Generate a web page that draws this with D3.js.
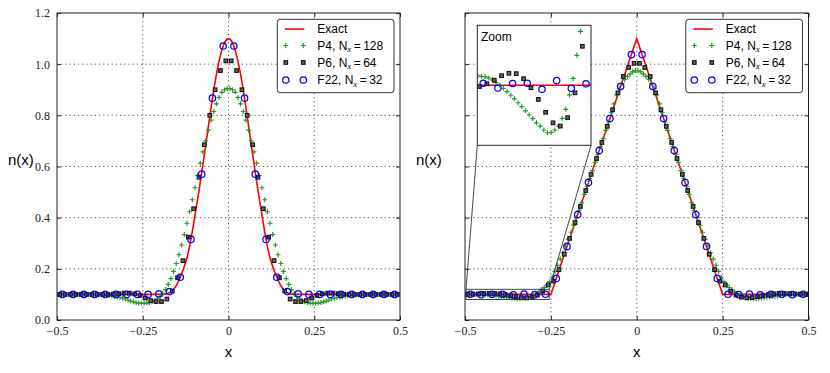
<!DOCTYPE html>
<html><head><meta charset="utf-8">
<script src="https://cdn.jsdelivr.net/npm/d3@7"></script>
<style>body{margin:0;background:#fff}svg{display:block}</style>
</head><body>
<script>
// ---------- data ----------
const xTicks = [-0.5, -0.25, 0, 0.25, 0.5];
const xTickLabels = ["\u22120.5", "\u22120.25", "0", "0.25", "0.5"];
const yTicks = [0, 0.2, 0.4, 0.6, 0.8, 1.0, 1.2];
const yTickLabels = ["0.0", "0.2", "0.4", "0.6", "0.8", "1.0", "1.2"];
const gridX = [-0.25, 0, 0.25];
const gridY = [0.2, 0.4, 0.6, 0.8, 1.0];
const seriesNames = ["Exact", "P4", "P6", "F22"];
const seriesN = [null, 128, 64, 32];

// left panel: smooth bump
const leftExactX = [-0.5,-0.2,-0.19,-0.18,-0.17,-0.16,-0.15,-0.14,-0.13,-0.12,-0.11,-0.1,-0.09,-0.08,-0.07,-0.06,-0.05,-0.04,-0.03,-0.02,-0.01,0,
  0.01,0.02,0.03,0.04,0.05,0.06,0.07,0.08,0.09,0.1,0.11,0.12,0.13,0.14,0.15,0.16,0.17,0.18,0.19,0.2,0.5];
const leftExactY = [0.1,0.1,0.1005,0.103,0.108,0.12,0.14,0.169,0.205,0.248,0.312,0.39,0.472,0.558,0.65,0.745,0.837,0.923,0.996,1.052,1.088,1.1,
  1.088,1.052,0.996,0.923,0.837,0.745,0.65,0.558,0.472,0.39,0.312,0.248,0.205,0.169,0.14,0.12,0.108,0.103,0.1005,0.1,0.1];
const leftP4 = [0.1,0.1,0.1,0.1,0.1,0.1,0.1,0.1,0.1,0.1,0.1,0.1,0.1,0.099,0.099,0.098,0.098,0.097,0.096,0.095,0.094,0.092,0.09,0.088,0.085,0.082,0.078,0.074,0.071,0.068,0.066,0.065,0.065,0.066,0.068,0.071,0.076,0.083,0.092,0.104,0.119,0.139,0.162,0.19,0.221,0.255,0.293,0.334,0.378,0.423,0.47,0.517,0.565,0.613,0.657,0.70,0.742,0.781,0.815,0.845,0.87,0.89,0.90,0.905,
  0.905,0.90,0.89,0.87,0.845,0.815,0.781,0.742,0.70,0.657,0.613,0.565,0.517,0.47,0.423,0.378,0.334,0.293,0.255,0.221,0.19,0.162,0.139,0.119,0.104,0.092,0.083,0.076,0.071,0.068,0.066,0.065,0.065,0.066,0.068,0.071,0.074,0.078,0.082,0.085,0.088,0.09,0.092,0.094,0.095,0.096,0.097,0.098,0.098,0.099,0.099,0.1,0.1,0.1,0.1,0.1,0.1,0.1,0.1,0.1,0.1,0.1,0.1,0.1];
const leftP6 = [0.1,0.1,0.1,0.1,0.1,0.1,0.1,0.1,0.1,0.1,0.101,0.103,0.105,0.105,0.102,0.096,0.086,0.076,0.072,0.072,0.082,0.113,0.165,0.232,0.324,0.435,0.558,0.685,0.80,0.90,0.975,1.013,
  1.013,0.975,0.90,0.80,0.685,0.558,0.435,0.324,0.232,0.165,0.113,0.082,0.072,0.072,0.076,0.086,0.096,0.102,0.105,0.105,0.103,0.101,0.1,0.1,0.1,0.1,0.1,0.1,0.1,0.1,0.1,0.1];
const leftF22 = [0.1,0.1,0.1,0.1,0.1,0.1,0.1,0.1,0.1,0.102,0.111,0.167,0.315,0.57,0.867,1.071,
  1.071,0.867,0.57,0.315,0.167,0.111,0.102,0.1,0.1,0.1,0.1,0.1,0.1,0.1,0.1,0.1];

// right panel: triangle
const rightExactX = [-0.5, -0.25, 0, 0.25, 0.5];
const rightExactY = [0.1, 0.1, 1.1, 0.1, 0.1];
const rightP4 = [0.1031,0.103,0.1029,0.1024,0.1018,0.1009,0.1,0.099,0.0979,0.0967,0.0955,0.0942,0.0929,0.0915,0.0902,0.0889,0.0875,0.0864,0.0851,0.0842,0.0843,0.0851,0.0864,0.089,0.092,0.0968,0.1023,0.11,0.118,0.127,0.137,0.15,0.167,0.19,0.214,0.238,0.263,0.29,0.316,0.343,0.37,0.399,0.428,0.459,0.491,0.522,0.553,0.584,0.616,0.647,0.678,0.709,0.741,0.774,0.81,0.845,0.88,0.905,0.925,0.94,0.952,0.962,0.970,0.975,
  0.975,0.970,0.962,0.952,0.94,0.925,0.905,0.88,0.845,0.81,0.774,0.741,0.709,0.678,0.647,0.616,0.584,0.553,0.522,0.491,0.459,0.428,0.399,0.37,0.343,0.316,0.29,0.263,0.238,0.214,0.19,0.167,0.15,0.137,0.127,0.118,0.11,0.1023,0.0968,0.092,0.089,0.0864,0.0851,0.0843,0.0842,0.0851,0.0864,0.0875,0.0889,0.0902,0.0915,0.0929,0.0942,0.0955,0.0967,0.0979,0.099,0.1,0.1009,0.1018,0.1024,0.1029,0.103,0.1031];
const rightP6 = [0.0996,0.1005,0.1017,0.1032,0.104,0.1039,0.1022,0.0992,0.0953,0.091,0.0875,0.0864,0.0892,0.0975,0.113,0.137,0.152,0.197,0.257,0.319,0.381,0.444,0.506,0.569,0.631,0.694,0.757,0.822,0.888,0.952,0.987,1.003,
  1.003,0.987,0.952,0.888,0.822,0.757,0.694,0.631,0.569,0.506,0.444,0.381,0.319,0.257,0.197,0.152,0.137,0.113,0.0975,0.0892,0.0864,0.0875,0.091,0.0953,0.0992,0.1022,0.1039,0.104,0.1032,0.1017,0.1005,0.0996];
const rightF22 = [0.1007,0.0991,0.1006,0.1007,0.0987,0.1016,0.099,0.1005,0.1625,0.2875,0.4125,0.5375,0.6625,0.7875,0.9125,1.0375,
  1.0375,0.9125,0.7875,0.6625,0.5375,0.4125,0.2875,0.1625,0.1005,0.099,0.1016,0.0987,0.1007,0.1006,0.0991,0.1007];

// inset window (data coords)
const insetX = [-0.497, -0.255];
const insetY = [0.08, 0.12];

// ---------- drawing ----------
const COL = {exact: "#ff0000", p4: "#229922", p6: "#111", f22: "#0000ff"};
const svg = d3.select("body").append("svg").attr("width", 830).attr("height", 373)
  .style("font-family", "'Liberation Sans', Arial, sans-serif");

const cells = arr => arr.map((v, i) => [-0.5 + (i + 0.5) / arr.length, v]);

function plusPath(cx, cy) { return `M${cx - 2.5},${cy}h5M${cx},${cy - 2.5}v5`; }

function drawMarkers(g, x, y, p4, p6, f22) {
  g.selectAll(null).data(cells(p4)).join("path")
    .attr("d", d => plusPath(x(d[0]), y(d[1])))
    .attr("stroke", COL.p4).attr("stroke-width", 1.15).attr("fill", "none");
  g.selectAll(null).data(cells(p6)).join("rect")
    .attr("x", d => x(d[0]) - 1.8).attr("y", d => y(d[1]) - 1.8)
    .attr("width", 3.6).attr("height", 3.6)
    .attr("stroke", COL.p6).attr("stroke-width", 1.1).attr("fill", "#666");
  g.selectAll(null).data(cells(f22)).join("circle")
    .attr("cx", d => x(d[0])).attr("cy", d => y(d[1])).attr("r", 3.2)
    .attr("stroke", COL.f22).attr("stroke-width", 1.25).attr("fill", "none");
}

function panel(cfg) {
  const x = d3.scaleLinear().domain([-0.5, 0.5]).range([cfg.x0, cfg.x1]);
  const y = d3.scaleLinear().domain([0, 1.2]).range([320, 13]);
  const g = svg.append("g");
  const cid = "clip" + cfg.id;
  svg.append("clipPath").attr("id", cid).append("rect")
    .attr("x", cfg.x0).attr("y", 13).attr("width", cfg.x1 - cfg.x0).attr("height", 307);

  // grid
  g.selectAll(null).data(gridX).join("line")
    .attr("x1", d => x(d)).attr("x2", d => x(d)).attr("y1", 13).attr("y2", 320)
    .attr("stroke", "#444").attr("stroke-width", 0.9).attr("stroke-dasharray", "1.2,3");
  g.selectAll(null).data(gridY).join("line")
    .attr("y1", d => y(d)).attr("y2", d => y(d)).attr("x1", cfg.x0).attr("x2", cfg.x1)
    .attr("stroke", "#444").attr("stroke-width", 0.9).attr("stroke-dasharray", "1.2,3");

  const plot = g.append("g").attr("clip-path", `url(#${cid})`);
  const line = d3.line().x(d => x(d[0])).y(d => y(d[1])).curve(cfg.curve);
  plot.append("path").datum(d3.zip(cfg.exactX, cfg.exactY)).attr("d", line)
    .attr("fill", "none").attr("stroke", COL.exact).attr("stroke-width", 1.6);
  drawMarkers(plot, x, y, cfg.p4, cfg.p6, cfg.f22);

  if (cfg.inset) {
    const ix = d3.scaleLinear().domain(insetX).range([477.3, 591]);
    const iy = d3.scaleLinear().domain(insetY).range([145.3, 25.3]);
    g.append("rect").attr("x", x(insetX[0])).attr("y", y(insetY[1]))
      .attr("width", x(insetX[1]) - x(insetX[0])).attr("height", y(insetY[0]) - y(insetY[1]))
      .attr("fill", "none").attr("stroke", "#333").attr("stroke-width", 0.9);
    g.append("line").attr("x1", 477.3).attr("y1", 145.3).attr("x2", x(insetX[0])).attr("y2", y(insetY[1]))
      .attr("stroke", "#333").attr("stroke-width", 0.9);
    g.append("line").attr("x1", 591).attr("y1", 145.3).attr("x2", x(insetX[1])).attr("y2", y(insetY[1]))
      .attr("stroke", "#333").attr("stroke-width", 0.9);
    const ig = g.append("g");
    ig.append("rect").attr("x", 477.3).attr("y", 25.3).attr("width", 113.7).attr("height", 120).attr("fill", "#fff");
    svg.append("clipPath").attr("id", "clipInset").append("rect")
      .attr("x", 477.3).attr("y", 25.3).attr("width", 113.7).attr("height", 120);
    const ip = ig.append("g").attr("clip-path", "url(#clipInset)");
    const iline = d3.line().x(d => ix(d[0])).y(d => iy(d[1]));
    ip.append("path").datum(d3.zip(cfg.exactX, cfg.exactY)).attr("d", iline)
      .attr("fill", "none").attr("stroke", COL.exact).attr("stroke-width", 1.6);
    drawMarkers(ip, ix, iy, cfg.p4, cfg.p6, cfg.f22);
    ig.append("rect").attr("x", 477.3).attr("y", 25.3).attr("width", 113.7).attr("height", 120)
      .attr("fill", "none").attr("stroke", "#222").attr("stroke-width", 1);
    ig.append("text").attr("x", 481).attr("y", 41).attr("font-size", 12).text("Zoom");
  }

  // frame
  g.append("rect").attr("x", cfg.x0).attr("y", 13).attr("width", cfg.x1 - cfg.x0).attr("height", 307)
    .attr("fill", "none").attr("stroke", "#222").attr("stroke-width", 1);

  // axes (inward ticks)
  const tickFont = "'Liberation Serif', 'DejaVu Serif', serif";
  const ax = g.append("g").attr("transform", "translate(0,320)")
    .call(d3.axisBottom(x).tickValues(xTicks).tickSize(-4).tickPadding(6)
      .tickFormat((d, i) => xTickLabels[i]));
  const ay = g.append("g").attr("transform", `translate(${cfg.x0},0)`)
    .call(d3.axisLeft(y).tickValues(yTicks).tickSize(-4).tickPadding(7)
      .tickFormat((d, i) => cfg.yLabels ? yTickLabels[i] : ""));
  const at = g.append("g").attr("transform", "translate(0,13)")
    .call(d3.axisTop(x).tickValues(xTicks).tickSize(-4).tickFormat(""));
  const ar = g.append("g").attr("transform", `translate(${cfg.x1},0)`)
    .call(d3.axisRight(y).tickValues(yTicks).tickSize(-4).tickFormat(""));
  [ax, ay, at, ar].forEach(a => {
    a.select(".domain").remove();
    a.selectAll(".tick line").attr("stroke", "#222");
    a.selectAll("text").attr("font-family", tickFont).attr("font-size", 12).attr("fill", "#222");
  });

  // axis labels
  g.append("text").attr("x", (cfg.x0 + cfg.x1) / 2).attr("y", 357).attr("text-anchor", "middle")
    .attr("font-size", 15).text("x");
  g.append("text").attr("x", cfg.x0 - 49).attr("y", 165).attr("font-size", 15).text("n(x)");

  // legend
  const lx = cfg.x1 - 122.7, ly = 19.3;
  const lg = g.append("g");
  lg.append("rect").attr("x", lx).attr("y", ly).attr("width", 116.7).attr("height", 73.4).attr("rx", 3)
    .attr("fill", "#fff").attr("stroke", "#333").attr("stroke-width", 1);
  const rows = [29, 45.5, 62.5, 80];
  const mx1 = lx + 8.5, mx2 = lx + 26;
  lg.append("line").attr("x1", lx + 7.5).attr("x2", lx + 27).attr("y1", rows[0]).attr("y2", rows[0])
    .attr("stroke", COL.exact).attr("stroke-width", 1.6);
  const legMarks = lg.append("g");
  [mx1, mx2].forEach(mx => {
    legMarks.append("path").attr("d", plusPath(mx, rows[1]))
      .attr("stroke", COL.p4).attr("stroke-width", 1.15);
    legMarks.append("rect").attr("x", mx - 1.8).attr("y", rows[2] - 1.8).attr("width", 3.6).attr("height", 3.6)
      .attr("stroke", COL.p6).attr("stroke-width", 1.1).attr("fill", "#666");
    legMarks.append("circle").attr("cx", mx).attr("cy", rows[3]).attr("r", 3.2)
      .attr("stroke", COL.f22).attr("stroke-width", 1.25).attr("fill", "none");
  });
  const tx = lx + 40;
  lg.append("text").attr("x", tx).attr("y", rows[0] + 4.3).attr("font-size", 12).text(seriesNames[0]);
  for (let k = 1; k < 4; k++) {
    const t = lg.append("text").attr("x", tx).attr("y", rows[k] + 4.3).attr("font-size", 12);
    t.append("tspan").text(seriesNames[k] + ", N");
    t.append("tspan").attr("dy", 2.5).attr("font-size", 9).attr("font-style", "italic")
      .attr("font-family", "'Liberation Serif', serif").text("x");
    t.append("tspan").attr("dy", -2.5).text("\u2009=\u2009" + seriesN[k]);
  }
}

panel({id: "L", x0: 57, x1: 400, exactX: leftExactX, exactY: leftExactY, curve: d3.curveMonotoneX,
  p4: leftP4, p6: leftP6, f22: leftF22, yLabels: true, inset: false});
panel({id: "R", x0: 465, x1: 808.5, exactX: rightExactX, exactY: rightExactY, curve: d3.curveLinear,
  p4: rightP4, p6: rightP6, f22: rightF22, yLabels: false, inset: true});
</script>
</body></html>
